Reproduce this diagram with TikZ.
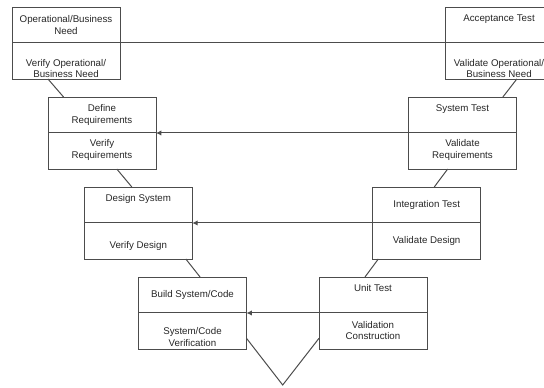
\documentclass[tikz,border=0pt]{standalone}
\usepackage{fontspec}
\setmainfont{Liberation Sans}
\usetikzlibrary{arrows.meta,calc}
\begin{document}
\begin{tikzpicture}[x=0.75pt,y=-0.75pt]
		\tikzset{phase/.style = {shape=rectangle,draw=black!70,minimum width=81pt,minimum height=54pt,inner sep=0pt,outer sep=0pt}}
		\tikzset{txt/.style = {align=center,inner sep=0pt,text=black!85,font=\fontsize{7.3}{8.6}\selectfont}}
		\tikzset{link/.style = {draw=black!70,line width=0.75pt}}
		\tikzset{edge/.style = {-{Latex[length=4pt,width=4pt]},draw=black!70,line width=0.75pt}}
		\useasboundingbox (0,0) rectangle (544,388);
		% boxes
		\node[phase] (opneed) at (66,43) {};
		\node[phase] (acctest) at (499,43) {};
		\node[phase] (defreq) at (102,133) {};
		\node[phase] (systest) at (462.5,133) {};
		\node[phase] (dsgn) at (138.3,223) {};
		\node[phase] (inttest) at (426.7,223) {};
		\node[phase] (build) at (192.5,313) {};
		\node[phase] (unittest) at (373,313) {};
		\foreach \b in {opneed,acctest,defreq,systest,dsgn,inttest,build,unittest}
			\path[link] (\b.west) -- (\b.east);
		% texts
		\node[txt] (opneed-t) at (66,25) {Operational/Business\\Need};
		\node[txt] (opneed-b) at (66,68.5) {Verify Operational/\\Business Need};
		\node[txt] (acctest-t) at (499,19) {Acceptance Test};
		\node[txt] (acctest-b) at (499,68.5) {Validate Operational/\\Business Need};
		\node[txt] (defreq-t) at (102,115) {Define\\Requirements};
		\node[txt] (defreq-b) at (102,150) {Verify\\Requirements};
		\node[txt] (systest-t) at (462.5,109) {System Test};
		\node[txt] (systest-b) at (462.5,150) {Validate\\Requirements};
		\node[txt] (dsgn-t) at (138.3,199) {Design System};
		\node[txt] (dsgn-b) at (138.3,246) {Verify Design};
		\node[txt] (inttest-t) at (426.7,205) {Integration Test};
		\node[txt] (inttest-b) at (426.7,240.7) {Validate Design};
		\node[txt] (build-t) at (192.5,295) {Build System/Code};
		\node[txt] (build-b) at (192.5,337) {System/Code\\Verification};
		\node[txt] (unittest-t) at (373,288.3) {Unit Test};
		\node[txt] (unittest-b) at (373,330.5) {Validation\\Construction};
		% connectors
		\path[link] (opneed.east) -- (acctest.west);
		\path[edge] (systest.west) -- (defreq.east);
		\path[edge] (inttest.west) -- (dsgn.east);
		\path[edge] (unittest.west) -- (build.east);
		\path[link] ($(opneed.south west)!0.333!(opneed.south east)$) -- ($(defreq.north west)!0.144!(defreq.north east)$);
		\path[link] ($(defreq.south west)!0.637!(defreq.south east)$) -- ($(dsgn.north west)!0.44!(dsgn.north east)$);
		\path[link] ($(dsgn.south west)!0.94!(dsgn.south east)$) -- ($(build.north west)!0.57!(build.north east)$);
		\path[link] ($(acctest.south west)!0.665!(acctest.south east)$) -- ($(systest.north west)!0.874!(systest.north east)$);
		\path[link] ($(systest.south west)!0.363!(systest.south east)$) -- ($(inttest.north west)!0.57!(inttest.north east)$);
		\path[link] ($(inttest.south west)!0.052!(inttest.south east)$) -- ($(unittest.north west)!0.426!(unittest.north east)$);
		\coordinate (vtip) at (282.7,385);
		\path[link] ($(build.south east)+(0,-10.7)$) -- (vtip) -- ($(unittest.south west)+(0,-10.7)$);
	\end{tikzpicture}
\end{document}
